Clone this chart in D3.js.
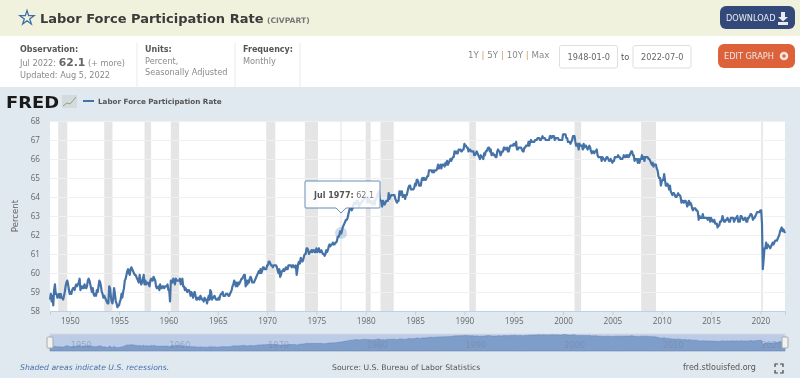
<!DOCTYPE html>
<html>
<head>
<meta charset="utf-8">
<script src="https://cdn.jsdelivr.net/npm/d3@7"></script>
<style>
    html, body { margin: 0; padding: 0; background: #fff; overflow: hidden; }
    svg { display: block; filter: blur(0.3px); }
    text { font-family: "DejaVu Sans", sans-serif; }
    .axis text { font-family: "Open Sans", sans-serif; font-size: 8.2px; fill: #666; }
    .grid line { stroke: #eef0f2; }
</style>
</head>
<body>
<div id="chart-area"></div>
<script>
// Monthly observations, Jan 1948 to Jul 2022, one row per year
const startMonth = new Date(1948, 0, 1);
const participation = [
    58.6,58.9,58.5,58.8,58.3,59.1,59.4,58.9,58.9,58.7,58.8,58.9,
    58.7,58.9,58.7,58.7,58.6,58.8,59.0,59.3,59.5,59.6,59.4,59.1,
    58.9,59.0,58.9,59.1,59.2,59.2,59.1,59.3,59.4,59.3,59.4,59.5,
    59.7,59.1,59.3,59.2,59.3,59.2,59.4,59.3,59.2,59.3,59.6,59.7,
    59.6,59.4,59.2,59.0,59.2,58.9,58.8,58.9,58.8,59.1,59.0,59.3,
    59.6,59.5,59.3,59.0,58.9,58.7,58.8,58.7,58.6,58.5,58.4,58.4,
    59.3,59.2,58.8,58.5,58.4,58.7,59.2,58.9,58.5,58.4,58.2,58.3,
    58.3,58.5,58.6,58.9,58.7,59.0,59.2,59.6,59.7,59.9,60.1,60.2,
    60.0,59.9,60.2,60.3,60.2,60.1,60.0,59.9,59.9,59.8,59.7,59.6,
    59.5,59.9,59.6,59.4,59.5,59.7,59.9,59.4,59.6,59.4,59.5,59.5,
    59.4,59.3,59.6,59.7,59.6,59.6,59.8,59.7,59.6,59.3,59.2,59.2,
    59.3,59.1,59.4,59.2,59.2,59.3,59.3,59.2,59.3,59.3,59.3,59.4,
    59.1,59.1,58.5,59.6,59.6,59.5,59.7,59.6,59.4,59.7,59.6,59.6,
    59.6,59.6,59.7,59.4,59.5,59.7,59.3,59.3,59.1,59.2,59.1,59.0,
    59.1,59.1,59.0,58.8,59.0,58.9,58.7,58.9,59.0,58.8,58.6,58.6,
    58.7,58.7,58.6,58.8,58.7,58.6,58.6,58.5,58.7,58.6,58.6,58.4,
    58.6,58.8,58.6,59.1,59.0,58.6,58.7,58.7,58.8,58.7,58.6,58.6,
    58.6,58.7,58.6,58.8,58.9,58.9,59.0,58.8,58.8,58.8,58.9,58.9,
    58.9,58.8,58.8,58.9,59.0,59.1,59.3,59.4,59.6,59.5,59.3,59.5,
    59.3,59.5,59.4,59.5,59.6,59.7,59.7,59.8,59.9,59.9,59.3,59.6,
    59.4,59.6,59.5,59.7,59.8,59.7,59.5,59.5,59.5,59.6,59.7,59.8,
    59.9,60.0,60.1,60.0,60.2,60.0,60.1,60.3,60.3,60.2,60.2,60.2,
    60.4,60.4,60.6,60.6,60.5,60.4,60.4,60.3,60.4,60.4,60.4,60.4,
    60.3,60.1,60.0,60.2,59.8,59.9,60.1,60.1,60.2,60.1,60.2,60.3,
    60.2,60.2,60.4,60.4,60.4,60.4,60.3,60.4,60.4,60.3,60.3,60.4,
    59.9,60.2,60.5,60.6,60.5,60.8,60.7,60.6,60.7,60.9,61.0,61.0,
    61.3,61.3,61.2,61.0,61.1,61.1,61.2,61.1,61.2,61.2,61.1,61.1,
    61.3,61.1,61.2,61.3,61.1,61.1,61.2,61.1,61.0,61.0,60.9,61.0,
    61.2,61.1,61.2,61.4,61.5,61.4,61.5,61.5,61.6,61.5,61.5,61.6,
    61.6,61.7,61.9,61.9,62.0,62.2,62.1,62.2,62.4,62.5,62.6,62.7,
    62.8,62.8,62.9,63.1,63.3,63.4,63.4,63.3,63.4,63.6,63.7,63.7,
    63.6,63.8,63.8,63.7,63.5,63.6,63.7,63.7,63.8,63.8,63.9,64.0,
    64.0,64.0,63.7,63.8,63.9,63.7,63.8,63.7,63.6,63.7,63.8,63.6,
    63.9,63.9,64.1,64.2,64.3,63.9,63.8,63.8,63.5,63.8,63.7,63.6,
    63.7,63.8,63.8,63.8,64.2,63.9,64.0,64.1,64.1,64.1,64.1,64.1,
    63.9,63.8,63.7,63.8,63.8,64.3,64.1,64.3,64.3,64.0,64.1,64.1,
    63.9,64.1,64.1,64.3,64.5,64.6,64.6,64.4,64.4,64.4,64.4,64.5,
    64.7,64.6,64.9,64.9,64.8,64.6,64.6,64.6,64.9,65.0,64.9,65.0,
    64.9,64.9,65.0,65.1,65.1,65.4,65.4,65.4,65.4,65.3,65.4,65.3,
    65.4,65.4,65.4,65.5,65.7,65.5,65.6,65.7,65.5,65.7,65.7,65.7,
    65.6,65.8,65.7,65.9,65.7,65.8,65.9,66.0,65.9,66.0,66.1,66.1,
    66.4,66.3,66.4,66.3,66.3,66.5,66.5,66.5,66.4,66.4,66.5,66.5,
    66.8,66.7,66.7,66.6,66.6,66.4,66.5,66.5,66.4,66.4,66.4,66.4,
    66.2,66.2,66.3,66.4,66.3,66.2,66.1,66.0,66.2,66.1,66.1,66.0,
    66.3,66.2,66.4,66.4,66.5,66.6,66.6,66.4,66.5,66.2,66.3,66.3,
    66.2,66.2,66.1,66.1,66.4,66.5,66.4,66.4,66.2,66.3,66.4,66.4,
    66.6,66.6,66.5,66.5,66.6,66.4,66.4,66.6,66.7,66.7,66.7,66.7,
    66.8,66.8,66.7,66.9,66.5,66.5,66.6,66.6,66.6,66.6,66.5,66.4,
    66.4,66.6,66.6,66.7,66.7,66.7,66.9,66.7,66.9,67.0,66.9,66.9,
    66.9,66.9,67.0,67.0,67.0,67.1,67.1,67.1,67.0,67.0,67.1,67.2,
    67.1,67.1,67.1,67.0,67.0,67.0,67.0,67.0,67.2,67.2,67.1,67.2,
    67.2,67.2,67.0,67.1,67.1,67.1,67.1,67.0,67.0,67.0,67.0,67.0,
    67.3,67.3,67.3,67.3,67.1,67.1,66.9,66.9,66.9,66.8,66.9,67.0,
    67.2,67.2,67.2,66.9,66.7,66.7,66.8,66.5,66.8,66.7,66.7,66.7,
    66.5,66.8,66.6,66.7,66.7,66.6,66.5,66.6,66.7,66.6,66.4,66.3,
    66.4,66.4,66.3,66.4,66.4,66.5,66.2,66.1,66.1,66.1,66.1,65.9,
    66.1,66.0,66.0,65.9,66.0,66.1,66.1,66.0,65.9,65.9,66.0,65.9,
    65.8,65.9,65.9,66.1,66.1,66.1,66.1,66.2,66.1,66.1,66.0,66.0,
    66.0,66.1,66.2,66.1,66.1,66.2,66.1,66.2,66.1,66.2,66.3,66.4,
    66.4,66.2,66.2,65.9,66.0,66.0,66.0,65.8,66.0,65.8,66.0,66.0,
    66.2,66.0,66.1,65.9,66.1,66.1,66.1,66.1,66.0,66.0,65.9,65.8,
    65.7,65.8,65.6,65.7,65.7,65.7,65.5,65.4,65.1,65.0,65.0,64.6,
    64.8,64.9,64.9,65.2,64.9,64.6,64.6,64.7,64.6,64.4,64.6,64.3,
    64.2,64.1,64.2,64.2,64.1,64.0,64.0,64.1,64.2,64.1,64.1,64.0,
    63.7,63.8,63.8,63.7,63.8,63.8,63.7,63.5,63.6,63.8,63.6,63.7,
    63.6,63.4,63.3,63.4,63.4,63.4,63.3,63.3,63.2,62.8,63.0,62.9,
    62.9,62.9,63.1,62.9,62.9,62.9,62.9,62.9,62.8,62.9,62.9,62.7,
    62.9,62.8,62.7,62.7,62.8,62.6,62.6,62.6,62.4,62.5,62.5,62.7,
    62.7,62.8,63.0,62.8,62.7,62.7,62.8,62.8,62.9,62.8,62.7,62.7,
    62.9,62.9,62.9,62.9,62.7,62.8,62.9,62.9,63.0,62.7,62.8,62.7,
    63.0,63.0,62.9,62.8,62.8,62.9,62.9,62.7,62.7,62.9,62.9,63.0,
    63.1,63.1,63.0,62.8,62.9,62.9,63.0,63.1,63.2,63.2,63.2,63.2,
    63.3,63.3,62.6,60.2,60.7,61.3,61.3,61.6,61.3,61.5,61.4,61.4,
    61.3,61.4,61.5,61.6,61.5,61.6,61.7,61.7,61.7,61.8,61.9,62.0,
    62.2,62.3,62.4,62.2,62.3,62.2,62.1
];

// Shaded recessions, [first month, last month]
const recessions = [
    ['1948-11', '1949-10'], ['1953-07', '1954-05'], ['1957-08', '1958-04'],
    ['1960-04', '1961-02'], ['1969-12', '1970-11'], ['1973-11', '1975-03'],
    ['1980-01', '1980-07'], ['1981-07', '1982-11'], ['1990-07', '1991-03'],
    ['2001-03', '2001-11'], ['2007-12', '2009-06'], ['2020-02', '2020-04']
];

const yTicks = d3.range(58, 69);
const xTickYears = d3.range(1950, 2021, 5);
const navTickYears = d3.range(1950, 2021, 10);

const parseMonth = d3.timeParse('%Y-%m');
const data = participation.map((v, i) => ({ date: d3.timeMonth.offset(startMonth, i), value: v }));

const totalWidth = 800;
const totalHeight = 378;
const margin = { left: 50, right: 15, top: 121, bottom: 67 };
const width = totalWidth - margin.left - margin.right;
const height = totalHeight - margin.top - margin.bottom;

const svg = d3.select('#chart-area')
    .append('svg')
        .attr('width', totalWidth)
        .attr('height', totalHeight);

// Page bands
svg.append('rect').attr('width', totalWidth).attr('height', 36).attr('fill', '#f1f2dd');
svg.append('rect').attr('y', 87).attr('width', totalWidth).attr('height', totalHeight - 87).attr('fill', '#e1e9f0');

// Header
const star = d3.symbol().type(d3.symbolStar).size(62);
svg.append('path')
    .attr('d', star())
    .attr('transform', 'translate(27, 18)')
    .attr('fill', 'none')
    .attr('stroke', '#3f6ea8')
    .attr('stroke-width', 1.3);

svg.append('text')
    .attr('x', 40)
    .attr('y', 23)
    .attr('font-size', '13px')
    .attr('font-weight', 'bold')
    .attr('fill', '#3b3b3b')
    .text('Labor Force Participation Rate');

svg.append('text')
    .attr('x', 267)
    .attr('y', 23)
    .attr('font-size', '7.6px')
    .attr('font-weight', 'bold')
    .attr('fill', '#777')
    .text('(CIVPART)');

// Buttons
const button = (x, y, w, h, color, label) => {
    svg.append('rect')
        .attr('x', x).attr('y', y).attr('width', w).attr('height', h)
        .attr('rx', 6).attr('fill', color);
    svg.append('text')
        .attr('x', x + 6).attr('y', y + h / 2 + 3)
        .attr('font-size', '8.2px')
        .attr('fill', '#e8ebf0')
        .text(label);
};
button(720, 6, 75, 23, '#32497a', 'DOWNLOAD');
button(718, 44, 77, 24, '#dd6239', 'EDIT GRAPH');

// Download icon
svg.append('path')
    .attr('d', 'M781 12h4v5h3l-5 4.5-5-4.5h3z M778 22h10v3h-10z')
    .attr('fill', '#e8ebf0');
// Settings icon
svg.append('circle').attr('cx', 784).attr('cy', 56).attr('r', 3).attr('fill', 'none')
    .attr('stroke', '#f2e6e0').attr('stroke-width', 2.6);

// Info block
const infoText = (x, y, str, opts) => {
    const o = opts || {};
    return svg.append('text')
        .attr('x', x).attr('y', y)
        .attr('font-size', o.size || '8.2px')
        .attr('font-weight', o.weight || 'normal')
        .attr('fill', o.fill || '#8a8a8a')
        .text(str);
};
infoText(20, 52, 'Observation:', { weight: 'bold', fill: '#555', size: '8px' });
const obs = infoText(20, 66, 'Jul 2022: ');
obs.append('tspan').attr('font-size', '10.8px').attr('font-weight', 'bold').attr('fill', '#666').text('62.1');
obs.append('tspan').text(' (+ more)');
infoText(20, 78, 'Updated: Aug 5, 2022');
infoText(145, 52, 'Units:', { weight: 'bold', fill: '#555', size: '8px' });
infoText(145, 64, 'Percent,');
infoText(145, 75, 'Seasonally Adjusted');
infoText(243, 52, 'Frequency:', { weight: 'bold', fill: '#555', size: '8px' });
infoText(243, 64, 'Monthly');

[137, 235, 300].forEach((x) => {
    svg.append('line').attr('x1', x).attr('x2', x).attr('y1', 43).attr('y2', 87).attr('stroke', '#e6edf3');
});

// Date range links
const rangeText = svg.append('text')
    .attr('x', 468).attr('y', 58)
    .attr('font-family', '"Open Sans", sans-serif')
    .attr('font-size', '8.7px')
    .attr('fill', '#888');
['1Y', '|', '5Y', '|', '10Y', '|', 'Max'].forEach((s) => {
    rangeText.append('tspan')
        .attr('fill', s === '|' ? '#c8a060' : '#888')
        .text(s + ' ');
});

const dateBox = (x, label) => {
    svg.append('rect')
        .attr('x', x).attr('y', 45.5).attr('width', 58).attr('height', 22.5)
        .attr('rx', 2).attr('fill', '#fff').attr('stroke', '#dedede');
    svg.append('text')
        .attr('x', x + 8).attr('y', 60)
        .attr('font-size', '8.2px')
        .attr('fill', '#666')
        .text(label);
};
dateBox(559.5, '1948-01-0');
dateBox(633, '2022-07-0');
infoText(621, 60, 'to', { size: '8.2px', fill: '#555' });

// Legend, logo
svg.append('text')
    .attr('x', 6).attr('y', 107.5)
    .attr('font-size', '16px')
    .attr('font-weight', 'bold')
    .attr('textLength', 53)
    .attr('lengthAdjust', 'spacingAndGlyphs')
    .attr('fill', '#1a1a1a')
    .text('FRED');
svg.append('rect').attr('x', 62).attr('y', 95).attr('width', 15).attr('height', 13).attr('fill', '#d5dadd');
svg.append('path')
    .attr('d', 'M63 106l4-3 3 1 6-7')
    .attr('fill', 'none')
    .attr('stroke', '#8fa58a');
svg.append('line').attr('x1', 83).attr('x2', 94).attr('y1', 101).attr('y2', 101)
    .attr('stroke', '#4572a7').attr('stroke-width', 2);
svg.append('text')
    .attr('x', 98).attr('y', 104)
    .attr('font-size', '7.2px')
    .attr('font-weight', 'bold')
    .attr('fill', '#555')
    .text('Labor Force Participation Rate');

// Plot group
const g = svg.append('g')
    .attr('transform', 'translate(' + margin.left + ', ' + margin.top + ')');

g.append('rect').attr('width', width).attr('height', height).attr('fill', '#fff');

// Scales
const x = d3.scaleTime()
    .domain([startMonth, d3.timeMonth.offset(startMonth, participation.length - 1)])
    .range([0, width]);

const y = d3.scaleLinear()
    .domain([58, 68])
    .range([height, 0]);

// Recessions
g.selectAll('.recession')
    .data(recessions)
    .enter()
    .append('rect')
        .attr('class', 'recession')
        .attr('x', (d) => x(parseMonth(d[0])))
        .attr('y', 0)
        .attr('width', (d) => x(parseMonth(d[1])) - x(parseMonth(d[0])))
        .attr('height', height)
        .attr('fill', '#e5e5e5');

// Y Axis with grid lines
const yAxisCall = d3.axisLeft(y)
    .tickValues(yTicks)
    .tickSize(-width)
    .tickPadding(10);
const yAxisGroup = g.append('g').attr('class', 'axis grid').call(yAxisCall);
yAxisGroup.select('.domain').remove();

// X Axis
const xAxisCall = d3.axisBottom(x)
    .tickValues(xTickYears.map((yr) => new Date(yr, 0, 1)))
    .tickFormat(d3.timeFormat('%Y'))
    .tickSize(4)
    .tickPadding(3);
const xAxisGroup = g.append('g')
    .attr('class', 'axis')
    .attr('transform', 'translate(0, ' + height + ')')
    .call(xAxisCall);
xAxisGroup.selectAll('line').attr('stroke', '#c0d0e0');
xAxisGroup.select('.domain').attr('stroke', '#c0d0e0');

// Y Label
svg.append('text')
    .attr('transform', 'translate(18, 216) rotate(-90)')
    .attr('text-anchor', 'middle')
    .attr('font-family', '"Open Sans", sans-serif')
    .attr('font-size', '8.6px')
    .attr('fill', '#666')
    .text('Percent');

// Crosshair
const hoverPoint = data[participation.length - 1 - (2022 - 1977) * 12];
g.append('line')
    .attr('x1', x(hoverPoint.date)).attr('x2', x(hoverPoint.date))
    .attr('y1', 0).attr('y2', height)
    .attr('stroke', '#dfe3e8');

// Line
const line = d3.line()
    .x((d) => x(d.date))
    .y((d) => y(d.value));

g.append('path')
    .datum(data)
    .attr('fill', 'none')
    .attr('stroke', '#4572a7')
    .attr('stroke-width', 2.2)
    .attr('stroke-linejoin', 'round')
    .attr('d', line);

// Hover marker
g.append('circle')
    .attr('cx', x(hoverPoint.date)).attr('cy', y(hoverPoint.value))
    .attr('r', 6).attr('fill', '#4572a7').attr('fill-opacity', 0.25);
g.append('circle')
    .attr('cx', x(hoverPoint.date)).attr('cy', y(hoverPoint.value))
    .attr('r', 1.5).attr('fill', '#4572a7');

// Tooltip
const tipX = x(hoverPoint.date);
g.append('path')
    .attr('d', 'M' + (tipX - 35) + ' 60h73a1 1 0 0 1 1 1v25a1 1 0 0 1 -1 1h-33l-5 5 -5 -5h-30a1 1 0 0 1 -1 -1v-25a1 1 0 0 1 1 -1z')
    .attr('fill', '#fff')
    .attr('fill-opacity', 0.85)
    .attr('stroke', '#4572a7')
    .attr('stroke-opacity', 0.8);
const tip = g.append('text')
    .attr('x', tipX - 27).attr('y', 76.5)
    .attr('font-size', '8px')
    .attr('fill', '#777');
tip.append('tspan').attr('font-weight', 'bold').attr('fill', '#555').text('Jul 1977:');
tip.append('tspan').text(' 62.1');

// Navigator
const navTop = 334;
const navBottom = 351;
const navY = d3.scaleLinear().domain([58, 68]).range([348, 333.5]);
const nav = svg.append('g').attr('transform', 'translate(' + margin.left + ', 0)');
nav.append('rect')
    .attr('y', navTop).attr('width', width).attr('height', navBottom - navTop)
    .attr('fill', '#bccbe6').attr('stroke', '#d5d9df');
nav.append('path')
    .datum(data)
    .attr('d', d3.area().x((d) => x(d.date)).y0(navBottom).y1((d) => navY(d.value)))
    .attr('fill', '#7f9dc9')
    .attr('stroke', '#5f83b8')
    .attr('stroke-width', 0.5);
nav.selectAll('.nav-label')
    .data(navTickYears)
    .enter()
    .append('text')
        .attr('x', (d) => x(new Date(d, 0, 1)) + 1)
        .attr('y', 348)
        .attr('font-family', '"Open Sans", sans-serif')
        .attr('font-size', '8.2px')
        .attr('fill', '#6f83a6')
        .attr('fill-opacity', 0.5)
        .text((d) => d);
nav.selectAll('.handle')
    .data([0, width])
    .enter()
    .append('rect')
        .attr('x', (d) => d - 3).attr('y', 337)
        .attr('width', 6).attr('height', 11).attr('rx', 1)
        .attr('fill', '#f2f2f2').attr('stroke', '#aaa');

// Footer
svg.append('text')
    .attr('x', 20).attr('y', 370)
    .attr('font-size', '7.7px')
    .attr('font-style', 'italic')
    .attr('fill', '#4572a7')
    .text('Shaded areas indicate U.S. recessions.');
svg.append('text')
    .attr('x', 332).attr('y', 370)
    .attr('font-size', '7.7px')
    .attr('fill', '#555')
    .text('Source: U.S. Bureau of Labor Statistics');
svg.append('text')
    .attr('x', 683).attr('y', 370)
    .attr('font-size', '8px')
    .attr('fill', '#555')
    .text('fred.stlouisfed.org');
svg.append('path')
    .attr('d', 'M775 367v-3h3M780 364h3v3M783 370v3h-3M778 373h-3v-3')
    .attr('fill', 'none')
    .attr('stroke', '#444')
    .attr('stroke-width', 1.2);
</script>
</body>
</html>
